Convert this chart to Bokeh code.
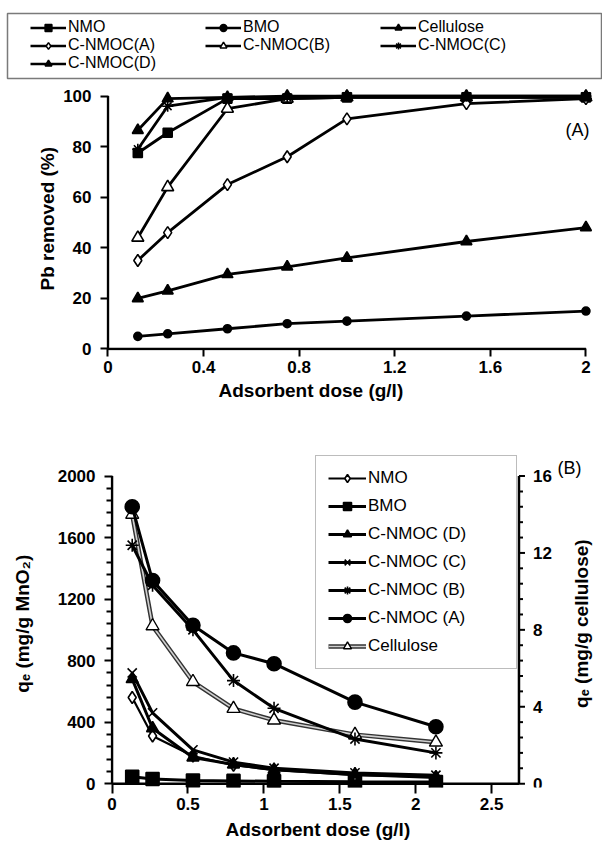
import math
from bokeh.plotting import figure
from bokeh.models import Range1d, FixedTicker, Legend, LegendItem, Label, Title
from bokeh.core.properties import value
from bokeh.embed import file_html
from bokeh.resources import INLINE

FONT = "Liberation Sans"

# ---------------- Panel (A): Pb removal (%) vs adsorbent dose ----------------
dose_a = [0.125, 0.25, 0.5, 0.75, 1.0, 1.5, 2.0]
pb_nmo = [77.5, 85.5, 99, 99, 99.5, 99.5, 99.5]
pb_bmo = [5, 6, 8, 10, 11, 13, 15]
pb_cellulose = [20, 23, 29.5, 32.5, 36, 42.5, 48]
pb_cnmoc_a = [35, 46, 65, 76, 91, 97, 99]
pb_cnmoc_b = [44, 64, 95, 99, 99.5, 99.5, 99.5]
pb_cnmoc_c = [79, 96, 99.5, 99.5, 100, 100, 100]
pb_cnmoc_d = [86.5, 99, 99.5, 100, 100, 100, 100]

ticks_a_x = [0, 0.4, 0.8, 1.2, 1.6, 2]
labels_a_x = ["0", "0.4", "0.8", "1.2", "1.6", "2"]
ticks_a_y = [0, 20, 40, 60, 80, 100]

# ---------------- Panel (B): q_e vs adsorbent dose ----------------
dose_b = [0.133, 0.267, 0.533, 0.8, 1.067, 1.6, 2.133]
qe_nmo = [560, 310, 180, 120, 90, 55, 45]
qe_bmo = [45, 30, 20, 18, 15, 12, 10]
qe_cnmoc_d = [680, 360, 170, 125, 90, 60, 40]
qe_cnmoc_c = [720, 460, 220, 140, 100, 70, 55]
qe_cnmoc_b = [1550, 1290, 1000, 670, 490, 290, 200]
qe_cnmoc_a = [1800, 1320, 1030, 850, 780, 530, 370]
qe_cellulose = [14.0, 8.2, 5.3, 3.9, 3.3, 2.55, 2.15]   # mg/g cellulose (right axis)

ticks_b_x = [0, 0.5, 1, 1.5, 2, 2.5]
labels_b_x = ["0", "0.5", "1", "1.5", "2", "2.5"]
ticks_b_left = [0, 400, 800, 1200, 1600, 2000]
ticks_b_right = [0, 4, 8, 12, 16]
labels_b_right = ["0", "4", "8", "12", "16"]

RIGHT_SCALE = 125.0  # 2000 mg/g MnO2 <-> 16 mg/g cellulose


def style_axis(ax, tick_in=2):
    ax.axis_line_color = None
    ax.major_tick_line_color = "black"
    ax.major_tick_line_width = 2
    ax.major_tick_out = 6
    ax.major_tick_in = tick_in
    ax.minor_tick_line_color = None
    ax.major_label_text_font = FONT
    ax.major_label_text_font_style = "bold"
    ax.major_label_text_font_size = "17px"
    ax.major_label_text_color = "black"
    ax.axis_label_text_font = FONT
    ax.axis_label_text_font_style = "bold"
    ax.axis_label_text_font_size = "19px"
    ax.axis_label_text_color = "black"


def axis_title(text, offset, standoff):
    return Title(text=text, align="left", offset=offset, standoff=standoff,
                 text_font=FONT, text_font_size="19px", text_font_style="bold",
                 text_color="black")


# ---------------- legend strip above panel (A) ----------------
series_a = [
    ("NMO", pb_nmo, "square", 9, "black"),
    ("BMO", pb_bmo, "circle", 8, "black"),
    ("Cellulose", pb_cellulose, "triangle", 11, "black"),
    ("C-NMOC(A)", pb_cnmoc_a, "diamond", 12, "white"),
    ("C-NMOC(B)", pb_cnmoc_b, "triangle", 12, "white"),
    ("C-NMOC(C)", pb_cnmoc_c, "asterisk", 11, "white"),
    ("C-NMOC(D)", pb_cnmoc_d, "triangle", 11, "black"),
]

leg = figure(width=602, height=84, x_range=(0, 1), y_range=(0, 1),
             toolbar_location=None, output_backend="svg",
             x_axis_location=None, y_axis_location=None,
             min_border_left=7, min_border_right=0,
             min_border_top=13, min_border_bottom=6)
leg.grid.visible = False
leg.outline_line_color = "#7a7a7a"
leg.outline_line_width = 1.5

items = []
for name, vals, marker, size, fill in series_a:
    # hidden copies of the series; only their legend samples are shown
    l = leg.line(dose_a, vals, line_color="black", line_width=2.5, visible=False)
    s = leg.scatter(dose_a, vals, marker=marker, size=size, fill_color=fill,
                    line_color="black", line_width=1.5, visible=False)
    items.append(LegendItem(label=name, renderers=[l, s]))

legend_a = Legend(items=items, ncols=3, orientation="horizontal", location=(23, 6),
                  padding=0, spacing=0, margin=0,
                  glyph_width=36, glyph_height=17, label_height=17, label_width=137,
                  label_standoff=2, border_line_color=None, background_fill_alpha=0,
                  label_text_font=FONT, label_text_font_size="16px",
                  label_text_color="black")
leg.add_layout(legend_a)

# ---------------- panel (A) ----------------
pa = figure(width=602, height=326, x_range=Range1d(-0.006, 2.04),
            y_range=Range1d(-0.6, 103), toolbar_location=None, output_backend="svg",
            min_border_left=106, min_border_right=7, min_border_top=4,
            min_border_bottom=60)
pa.grid.visible = False
pa.outline_line_color = None
pa.xaxis.ticker = FixedTicker(ticks=ticks_a_x)
pa.xaxis.major_label_overrides = dict(zip(ticks_a_x, labels_a_x))
pa.yaxis.ticker = FixedTicker(ticks=ticks_a_y)
for ax in (pa.xaxis[0], pa.yaxis[0]):
    style_axis(ax)
pa.xaxis.major_label_standoff = 4
pa.yaxis.major_label_standoff = 9
pa.add_layout(axis_title("Adsorbent dose (g/l)", 112, 4), "below")
pa.add_layout(axis_title("Pb   removed (%)", 60, 6), "left")

# axis lines spanning the tick range
pa.segment(x0=[ticks_a_x[0], ticks_a_x[0]], y0=[ticks_a_y[0], ticks_a_y[0]],
           x1=[ticks_a_x[0], ticks_a_x[-1]], y1=[ticks_a_y[-1], ticks_a_y[0]],
           line_color="black", line_width=2.5)

for name, vals, marker, size, fill in series_a:
    pa.line(dose_a, vals, line_color="black", line_width=2.8)
    pa.scatter(dose_a, vals, marker=marker, size=size, fill_color=fill,
               line_color="black", line_width=1.6)

pa.add_layout(Label(x=1.915, y=86.5, text="(A)", text_font=FONT,
                    text_font_size="18px", text_baseline="middle", text_color="black"))

# ---------------- panel (B) ----------------
PX_X = 151.85                      # pixels per g/l on the panel (B) x axis
B_LEFT, B_WIDTH = 110, 492
x_start = -0.01
x_stop = x_start + B_WIDTH / PX_X
y_lo, y_hi = -25, 2140

pb = figure(width=602, height=439, x_range=Range1d(x_start, x_stop),
            y_range=Range1d(y_lo, y_hi), toolbar_location=None, output_backend="svg",
            min_border_left=B_LEFT, min_border_right=0, min_border_top=44,
            min_border_bottom=62)
pb.grid.visible = False
pb.outline_line_color = None
pb.extra_y_ranges = {"cel": Range1d(y_lo / RIGHT_SCALE, y_hi / RIGHT_SCALE)}

left_minor = [v for v in range(0, 2001, 80) if v % 400]
right_minor = [v / 10 for v in range(0, 161, 8) if v % 40]
pb.xaxis.ticker = FixedTicker(ticks=ticks_b_x)
pb.xaxis.major_label_overrides = dict(zip(ticks_b_x, labels_b_x))
pb.yaxis.ticker = FixedTicker(ticks=ticks_b_left, minor_ticks=left_minor)
pb.yaxis.axis_label = "q\u2091 (mg/g  MnO\u2082)"
style_axis(pb.xaxis[0], tick_in=4)
style_axis(pb.yaxis[0])
pb.yaxis.minor_tick_line_color = "black"
pb.yaxis.minor_tick_line_width = 2
pb.yaxis.minor_tick_out = 4
pb.yaxis.minor_tick_in = 2
pb.xaxis.major_label_standoff = 4
pb.yaxis.major_label_standoff = 9
pb.yaxis.axis_label_standoff = 22
pb.add_layout(axis_title("Adsorbent dose (g/l)", 115, 9), "below")

# axis lines: bottom and left
x_end = 2.68
pb.segment(x0=[0, 0], y0=[0, 0], x1=[0, x_end], y1=[ticks_b_left[-1], 0],
           line_color="black", line_width=2.5)

# secondary (cellulose) axis drawn at x_end
major_len = 6 / PX_X
minor_len = 4 / PX_X
pb.segment(x0=[x_end], y0=[0], x1=[x_end], y1=[ticks_b_right[-1]],
           y_range_name="cel", line_color="black", line_width=2.5)
pb.segment(x0=[x_end] * len(ticks_b_right), y0=ticks_b_right,
           x1=[x_end + major_len] * len(ticks_b_right), y1=ticks_b_right,
           y_range_name="cel", line_color="black", line_width=2)
pb.segment(x0=[x_end] * len(right_minor), y0=right_minor,
           x1=[x_end + minor_len] * len(right_minor), y1=right_minor,
           y_range_name="cel", line_color="black", line_width=2)
pb.text(x=[x_end + 14 / PX_X] * len(ticks_b_right), y=ticks_b_right, text=labels_b_right,
        y_range_name="cel", text_font=value(FONT), text_font_style="bold",
        text_font_size="17px", text_baseline="middle", text_align="left",
        text_color="black")
pb.text(x=[x_end + 63 / PX_X], y=[(y_lo + y_hi) / 2 / RIGHT_SCALE],
        text=["q\u2091 (mg/g  cellulose)"], angle=math.pi / 2,
        y_range_name="cel", text_font=value(FONT), text_font_style="bold",
        text_font_size="19px", text_baseline="middle", text_align="center",
        text_color="black")

rend = {}


def series_b(key, vals, marker, size, fill, lw=3.0):
    l = pb.line(dose_b, vals, line_color="black", line_width=lw)
    s = pb.scatter(dose_b, vals, marker=marker, size=size, fill_color=fill,
                   line_color="black", line_width=1.6)
    rend[key] = [l, s]


series_b("BMO", qe_bmo, "square", 13, "black")
series_b("NMO", qe_nmo, "diamond", 12, "white", lw=2.2)
series_b("D", qe_cnmoc_d, "triangle", 12, "black")
series_b("C", qe_cnmoc_c, "x", 13, "white")
# cellulose: outlined double line on the secondary axis
cel_outer = pb.line(dose_b, qe_cellulose, line_color="#333333", line_width=4.5,
                    y_range_name="cel")
cel_inner = pb.line(dose_b, qe_cellulose, line_color="#d0d0d0", line_width=1.6,
                    y_range_name="cel")
cel_pts = pb.scatter(dose_b, qe_cellulose, marker="triangle", size=13, fill_color="white",
                     line_color="black", line_width=1.4, y_range_name="cel")
rend["Cel"] = [cel_outer, cel_inner, cel_pts]
series_b("B", qe_cnmoc_b, "asterisk", 13, "white")
series_b("A", qe_cnmoc_a, "circle", 14, "black")

legend_b = Legend(items=[
    LegendItem(label="NMO", renderers=rend["NMO"]),
    LegendItem(label="BMO", renderers=rend["BMO"]),
    LegendItem(label="C-NMOC (D)", renderers=rend["D"]),
    LegendItem(label="C-NMOC (C)", renderers=rend["C"]),
    LegendItem(label="C-NMOC (B)", renderers=rend["B"]),
    LegendItem(label="C-NMOC (A)", renderers=rend["A"]),
    LegendItem(label="Cellulose", renderers=rend["Cel"]),
], location=(205, 118), padding=12, spacing=8, margin=0,
    glyph_width=38, glyph_height=20, label_height=20, label_width=136,
    label_standoff=2, border_line_color="#7a7a7a", border_line_width=1.5,
    background_fill_color="white", background_fill_alpha=1,
    label_text_font=FONT, label_text_font_size="17px", label_text_color="black")
pb.add_layout(legend_b)

pb.add_layout(Label(x=x_start + 447 / PX_X, y=2050, text="(B)", text_font=FONT,
                    text_font_size="18px", text_baseline="middle", text_color="black"))

with open("out.html", "w") as f:
    f.write(file_html([leg, pa, pb], INLINE))
